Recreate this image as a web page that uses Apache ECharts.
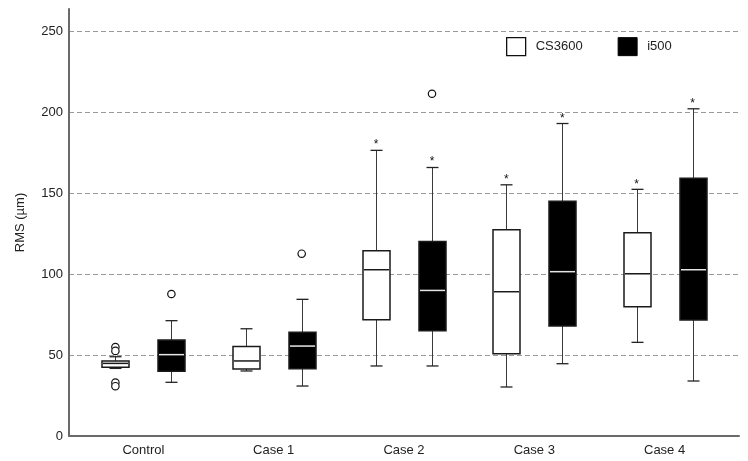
<!DOCTYPE html>
<html>
<head>
<meta charset="utf-8">
<script src="https://cdn.jsdelivr.net/npm/echarts@6/dist/echarts.min.js"></script>
<style>
html,body{margin:0;padding:0;background:#fff;}
#chart{width:748px;height:461px;}
</style>
</head>
<body>
<div id="chart"></div>
<script>
const categories = ['Control', 'Case 1', 'Case 2', 'Case 3', 'Case 4'];
const seriesNames = ['CS3600', 'i500'];
const yTicks = [0, 50, 100, 150, 200, 250];
// [min, Q1, median, Q3, max]
const cs3600Box = [
  [41.8, 42.5, 44.9, 46.4, 49.0],
  [40.2, 41.4, 46.4, 55.4, 66.3],
  [43.3, 71.9, 102.8, 114.5, 176.6],
  [30.3, 50.9, 89.2, 127.5, 155.3],
  [57.9, 79.9, 100.3, 125.7, 152.5]
];
const i500Box = [
  [33.2, 40.0, 50.3, 59.3, 71.3],
  [30.9, 41.6, 55.6, 64.1, 84.5],
  [43.3, 65.1, 90.0, 120.3, 166.0],
  [44.7, 68.0, 101.6, 145.2, 193.2],
  [34.0, 71.7, 102.8, 159.3, 202.3]
];
// outliers (circles): [categoryIndex, value]
const cs3600Outliers = [[0, 55.0], [0, 52.6], [0, 33.0], [0, 30.8]];
const i500Outliers = [[0, 87.8], [1, 112.7], [2, 211.6]];
// extremes (asterisks): [categoryIndex, value]
const cs3600Extremes = [[2, 180.0], [3, 158.6], [4, 155.3]];
const i500Extremes = [[2, 169.5], [3, 196.3], [4, 205.6]];

const OFFSET = 28;
const HALF_BOX = 13.5;
const HALF_CAP = 6;

function boxRender(offset, fill, medColor) {
  return function (params, api) {
    const ci = api.value(0);
    const x = Math.round(api.coord([ci, 0])[0] + offset) + 0.5;
    const yMin = api.coord([ci, api.value(1)])[1];
    const yQ1 = api.coord([ci, api.value(2)])[1];
    const yMed = api.coord([ci, api.value(3)])[1];
    const yQ3 = api.coord([ci, api.value(4)])[1];
    const yMax = api.coord([ci, api.value(5)])[1];
    const wStyle = { stroke: '#3a3a3a', lineWidth: 1 };
    return {
      type: 'group',
      children: [
        { type: 'line', shape: { x1: x, y1: yMax, x2: x, y2: yQ3 }, style: wStyle },
        { type: 'line', shape: { x1: x, y1: yQ1, x2: x, y2: yMin }, style: wStyle },
        { type: 'line', shape: { x1: x - HALF_CAP, y1: yMax, x2: x + HALF_CAP, y2: yMax }, style: { stroke: '#222', lineWidth: 1.3 } },
        { type: 'line', shape: { x1: x - HALF_CAP, y1: yMin, x2: x + HALF_CAP, y2: yMin }, style: { stroke: '#222', lineWidth: 1.3 } },
        { type: 'rect', shape: { x: x - HALF_BOX, y: yQ3, width: HALF_BOX * 2, height: yQ1 - yQ3 },
          style: { fill: fill, stroke: '#1a1a1a', lineWidth: 1.5 } },
        { type: 'line', shape: { x1: x - HALF_BOX + 1, y1: yMed, x2: x + HALF_BOX - 1, y2: yMed },
          style: { stroke: medColor, lineWidth: 1.5 } }
      ]
    };
  };
}

function outlierRender(offset) {
  return function (params, api) {
    const ci = api.value(0);
    const p = api.coord([ci, api.value(1)]);
    return {
      type: 'circle',
      shape: { cx: p[0] + offset, cy: p[1], r: 3.7 },
      style: { fill: '#fff', stroke: '#111', lineWidth: 1.2 }
    };
  };
}

function extremeRender(offset) {
  return function (params, api) {
    const ci = api.value(0);
    const p = api.coord([ci, api.value(1)]);
    return {
      type: 'text',
      x: p[0] + offset,
      y: p[1],
      style: { text: '*', fill: '#111', font: '12px "Liberation Sans", Arial, sans-serif', align: 'center', verticalAlign: 'middle' }
    };
  };
}

const toRows = (arr) => arr.map((v, i) => [i].concat(v));

const option = {
  backgroundColor: '#fff',
  animation: false,
  textStyle: { fontFamily: '"Liberation Sans", Arial, sans-serif' },
  legend: {
    left: 506,
    top: 37,
    padding: 0,
    itemWidth: 19,
    itemHeight: 18,
    itemGap: 35,
    icon: 'rect',
    selectedMode: false,
    textStyle: { fontSize: 13, color: '#222', padding: [0, 0, 0, 5] },
    data: [
      { name: seriesNames[0], itemStyle: { color: '#fff', borderColor: '#111', borderWidth: 1.3 } },
      { name: seriesNames[1], itemStyle: { color: '#000', borderColor: '#000', borderWidth: 1 } }
    ]
  },
  grid: [
    { left: 78.25, right: 18.25, top: 9, bottom: 25 },
    { left: 69, right: 9, top: 9, bottom: 25 }
  ],
  xAxis: [
    {
      type: 'category', gridIndex: 0, data: categories, boundaryGap: true,
      axisLine: { show: false }, axisTick: { show: false },
      axisLabel: { fontSize: 13, color: '#222', margin: 8 }
    },
    {
      type: 'value', gridIndex: 1, min: 0, max: 1,
      axisLine: { show: true, onZero: false, lineStyle: { color: '#6a6a6a', width: 2 } },
      axisTick: { show: false }, axisLabel: { show: false }, splitLine: { show: false }
    }
  ],
  yAxis: [
    { type: 'value', gridIndex: 0, min: 0, max: 264, show: false, splitLine: { show: false } },
    {
      type: 'value', gridIndex: 1, min: yTicks[0], max: 264, interval: 50,
      name: 'RMS (µm)', nameLocation: 'middle', nameGap: 42,
      nameTextStyle: { fontSize: 13, color: '#222' },
      axisLine: { show: true, lineStyle: { color: '#6a6a6a', width: 2 } },
      axisTick: { show: false },
      axisLabel: { fontSize: 13, color: '#222', margin: 6, showMaxLabel: false,
        formatter: (v) => (yTicks.indexOf(v) >= 0 ? String(v) : '') },
      splitLine: { show: true, showMinLine: false, showMaxLine: false,
        lineStyle: { color: '#9a9a9a', type: [5, 3], width: 1 } }
    }
  ],
  series: [
    { name: seriesNames[0], type: 'custom', xAxisIndex: 0, yAxisIndex: 0,
      itemStyle: { color: '#fff', borderColor: '#111' },
      renderItem: boxRender(-OFFSET, '#fff', '#1a1a1a'),
      encode: { x: 0, y: [1, 2, 3, 4, 5] }, data: toRows(cs3600Box), z: 3 },
    { name: seriesNames[1], type: 'custom', xAxisIndex: 0, yAxisIndex: 0,
      itemStyle: { color: '#000', borderColor: '#000' },
      renderItem: boxRender(OFFSET, '#000', '#e6e6e6'),
      encode: { x: 0, y: [1, 2, 3, 4, 5] }, data: toRows(i500Box), z: 3 },
    { name: seriesNames[0], type: 'custom', xAxisIndex: 0, yAxisIndex: 0,
      renderItem: outlierRender(-OFFSET), encode: { x: 0, y: 1 }, data: cs3600Outliers, z: 4 },
    { name: seriesNames[1], type: 'custom', xAxisIndex: 0, yAxisIndex: 0,
      renderItem: outlierRender(OFFSET), encode: { x: 0, y: 1 }, data: i500Outliers, z: 4 },
    { name: seriesNames[0], type: 'custom', xAxisIndex: 0, yAxisIndex: 0,
      renderItem: extremeRender(-OFFSET), encode: { x: 0, y: 1 }, data: cs3600Extremes, z: 4 },
    { name: seriesNames[1], type: 'custom', xAxisIndex: 0, yAxisIndex: 0,
      renderItem: extremeRender(OFFSET), encode: { x: 0, y: 1 }, data: i500Extremes, z: 4 }
  ]
};

const chart = echarts.init(document.getElementById('chart'), null, { renderer: 'canvas' });
chart.setOption(option);
</script>
</body>
</html>
